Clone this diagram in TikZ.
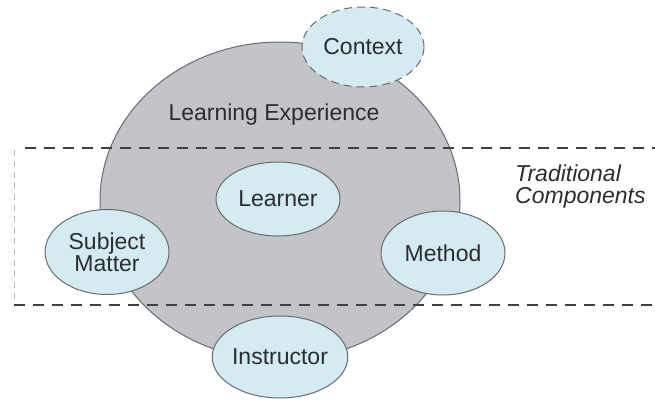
\documentclass[tikz,border=0pt]{standalone}
\usepackage{fontspec}
\setmainfont{Liberation Sans}
\usetikzlibrary{shapes.geometric}
\definecolor{discgray}{HTML}{C3C4C8}
\definecolor{edgegray}{HTML}{656C72}
\definecolor{bubble}{HTML}{D3EBF1}
\definecolor{inkgray}{HTML}{2B2D30}
\definecolor{dashdark}{HTML}{3E4042}
\definecolor{dashlight}{HTML}{B8B8B8}
\tikzset{
  bubblenode/.style={ellipse, fill=bubble, draw=edgegray, line width=1pt,
    inner sep=0pt, minimum width=124, minimum height=82, text=inkgray,
    align=center, font=\fontsize{23}{22}\selectfont},
  bandline/.style={draw=dashdark, line width=2pt, dash pattern=on 11pt off 8pt},
  bandside/.style={draw=dashlight, line width=1pt, dash pattern=on 6pt off 5pt},
}
\begin{document}
\begin{tikzpicture}[x=1pt, y=-1pt]
\useasboundingbox (0,0) rectangle (655,399);
% the learning experience disc
\node[ellipse, fill=discgray, draw=edgegray, line width=1pt, inner sep=0pt,
  minimum width=360, minimum height=318] (disc) at (280,201) {};
\node[text=inkgray, font=\fontsize{23}{23}\selectfont] (lexp) at (274,115) {Learning Experience};
% band of the traditional components
\coordinate (bandTL) at (25,148);
\coordinate (bandTR) at (655,148);
\coordinate (bandBL) at (14,305);
\coordinate (bandBR) at (655,305);
\coordinate (sideT) at (14,150);
\coordinate (sideB) at (14,302);
\draw[bandline] (bandTL) -- (bandTR);
\draw[bandline] (bandBL) -- (bandBR);
\draw[bandside] (sideT) -- (sideB);
\node[anchor=north west, align=left, text=inkgray,
  font=\fontsize{23}{22}\selectfont\itshape, inner sep=0pt] (trad) at (515,165)
  {Traditional\\Components};
% the components
\node[bubblenode, dashed, dash pattern=on 8pt off 5pt, minimum width=122, minimum height=80] (context) at (363,47) {Context};
\node[bubblenode, minimum height=74] (learner) at (278,199) {Learner};
\node[bubblenode, minimum height=85] (subject) at (107,252) {Subject\\Matter};
\node[bubblenode, minimum height=84] (method) at (443,253) {Method};
\node[bubblenode] (instructor) at (280,357) {Instructor};
\end{tikzpicture}
\end{document}
